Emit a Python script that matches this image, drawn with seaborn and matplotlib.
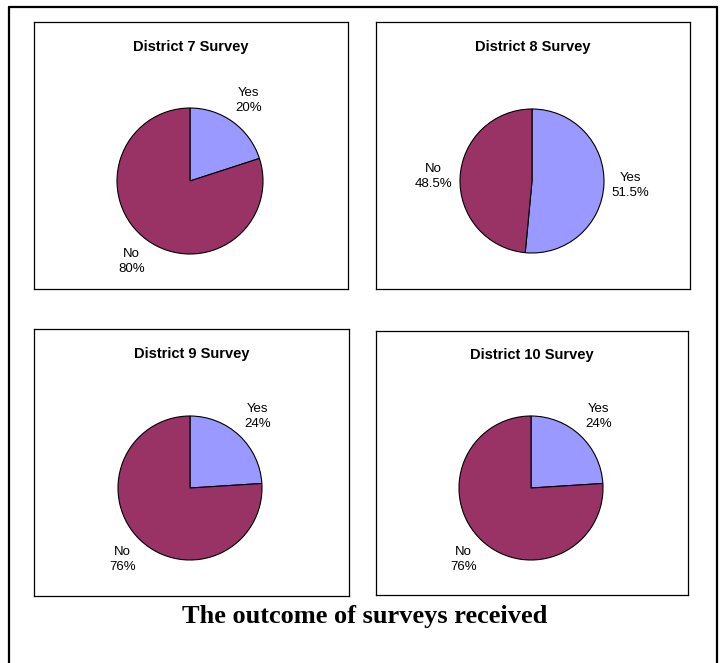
import matplotlib
matplotlib.use("Agg")
import matplotlib.pyplot as plt
from matplotlib.lines import Line2D
import seaborn as sns

# ---- data ----
titles = ["District 7 Survey", "District 8 Survey", "District 9 Survey", "District 10 Survey"]
categories = ["Yes", "No"]
yes_pct = [20, 51.5, 24, 24]
no_pct = [80, 48.5, 76, 76]
main_title = "The outcome of surveys received"

sns.set_theme(style="white")
plt.rcParams["font.family"] = ["Liberation Sans", "DejaVu Sans"]
plt.rcParams["text.color"] = "black"
palette = sns.color_palette(["#9999FF", "#993366"])

W, H = 720, 663
fig = plt.figure(figsize=(W / 100, H / 100), dpi=100)
fig.patch.set_facecolor("white")

# panel layout in pixels: (x0, y0, x1, y1), pie centre (cx, cy), radius r, title y
panels = [
    ((34, 22, 348, 289), (190, 181), 73, 47),
    ((376, 22, 690, 289), (532, 181), 72, 47),
    ((34, 329, 349, 596), (190, 488), 72, 354),
    ((376, 331, 688, 595), (531, 488), 72, 355),
]

def fmt(v):
    return f"{v:g}%"

for i, ((x0, y0, x1, y1), (cx, cy), r, ty) in enumerate(panels):
    ax = fig.add_axes([x0 / W, 1 - y1 / H, (x1 - x0) / W, (y1 - y0) / H])
    vals = [yes_pct[i], no_pct[i]]
    labels = [f"{c}\n{fmt(v)}" for c, v in zip(categories, vals)]
    wedges, texts = ax.pie(vals, labels=labels, colors=palette, startangle=90,
                           counterclock=False, radius=1, labeldistance=1.37,
                           wedgeprops=dict(edgecolor="black", linewidth=0.8),
                           textprops=dict(fontsize=9.5, color="black"))
    for t in texts:
        t.set_ha("center")
        t.set_va("center")
        t.set_multialignment("center")
        t.set_linespacing(1.35)
    ax.set_aspect("auto")
    ax.set_xlim((x0 - cx) / r, (x1 - cx) / r)
    ax.set_ylim((cy - y1) / r, (cy - y0) / r)
    ax.set_frame_on(True)
    ax.set_xticks([])
    ax.set_yticks([])
    for s in ax.spines.values():
        s.set_visible(True)
        s.set_color("black")
        s.set_linewidth(0.9)
    ax.text(0.5, 1 - (ty - y0) / (y1 - y0), titles[i], transform=ax.transAxes,
            ha="center", va="center", fontsize=10.5, fontweight="bold", color="black")

# outer frame (left, top, right)
fx0, fy0, fx1 = 9, 7, 717
for xs, ys in [((fx0, fx0), (fy0, H + 5)), ((fx0, fx1), (fy0, fy0)), ((fx1, fx1), (fy0, H + 5))]:
    fig.add_artist(Line2D([x / W for x in xs], [1 - y / H for y in ys],
                          transform=fig.transFigure, color="black", linewidth=1.6))

fig.text(365 / W, 1 - 617 / H, main_title, ha="center", va="center", color="black",
         fontsize=19, fontweight="bold", family=["Liberation Serif", "DejaVu Serif"])

fig.savefig("out.png", dpi=100, facecolor="white")
